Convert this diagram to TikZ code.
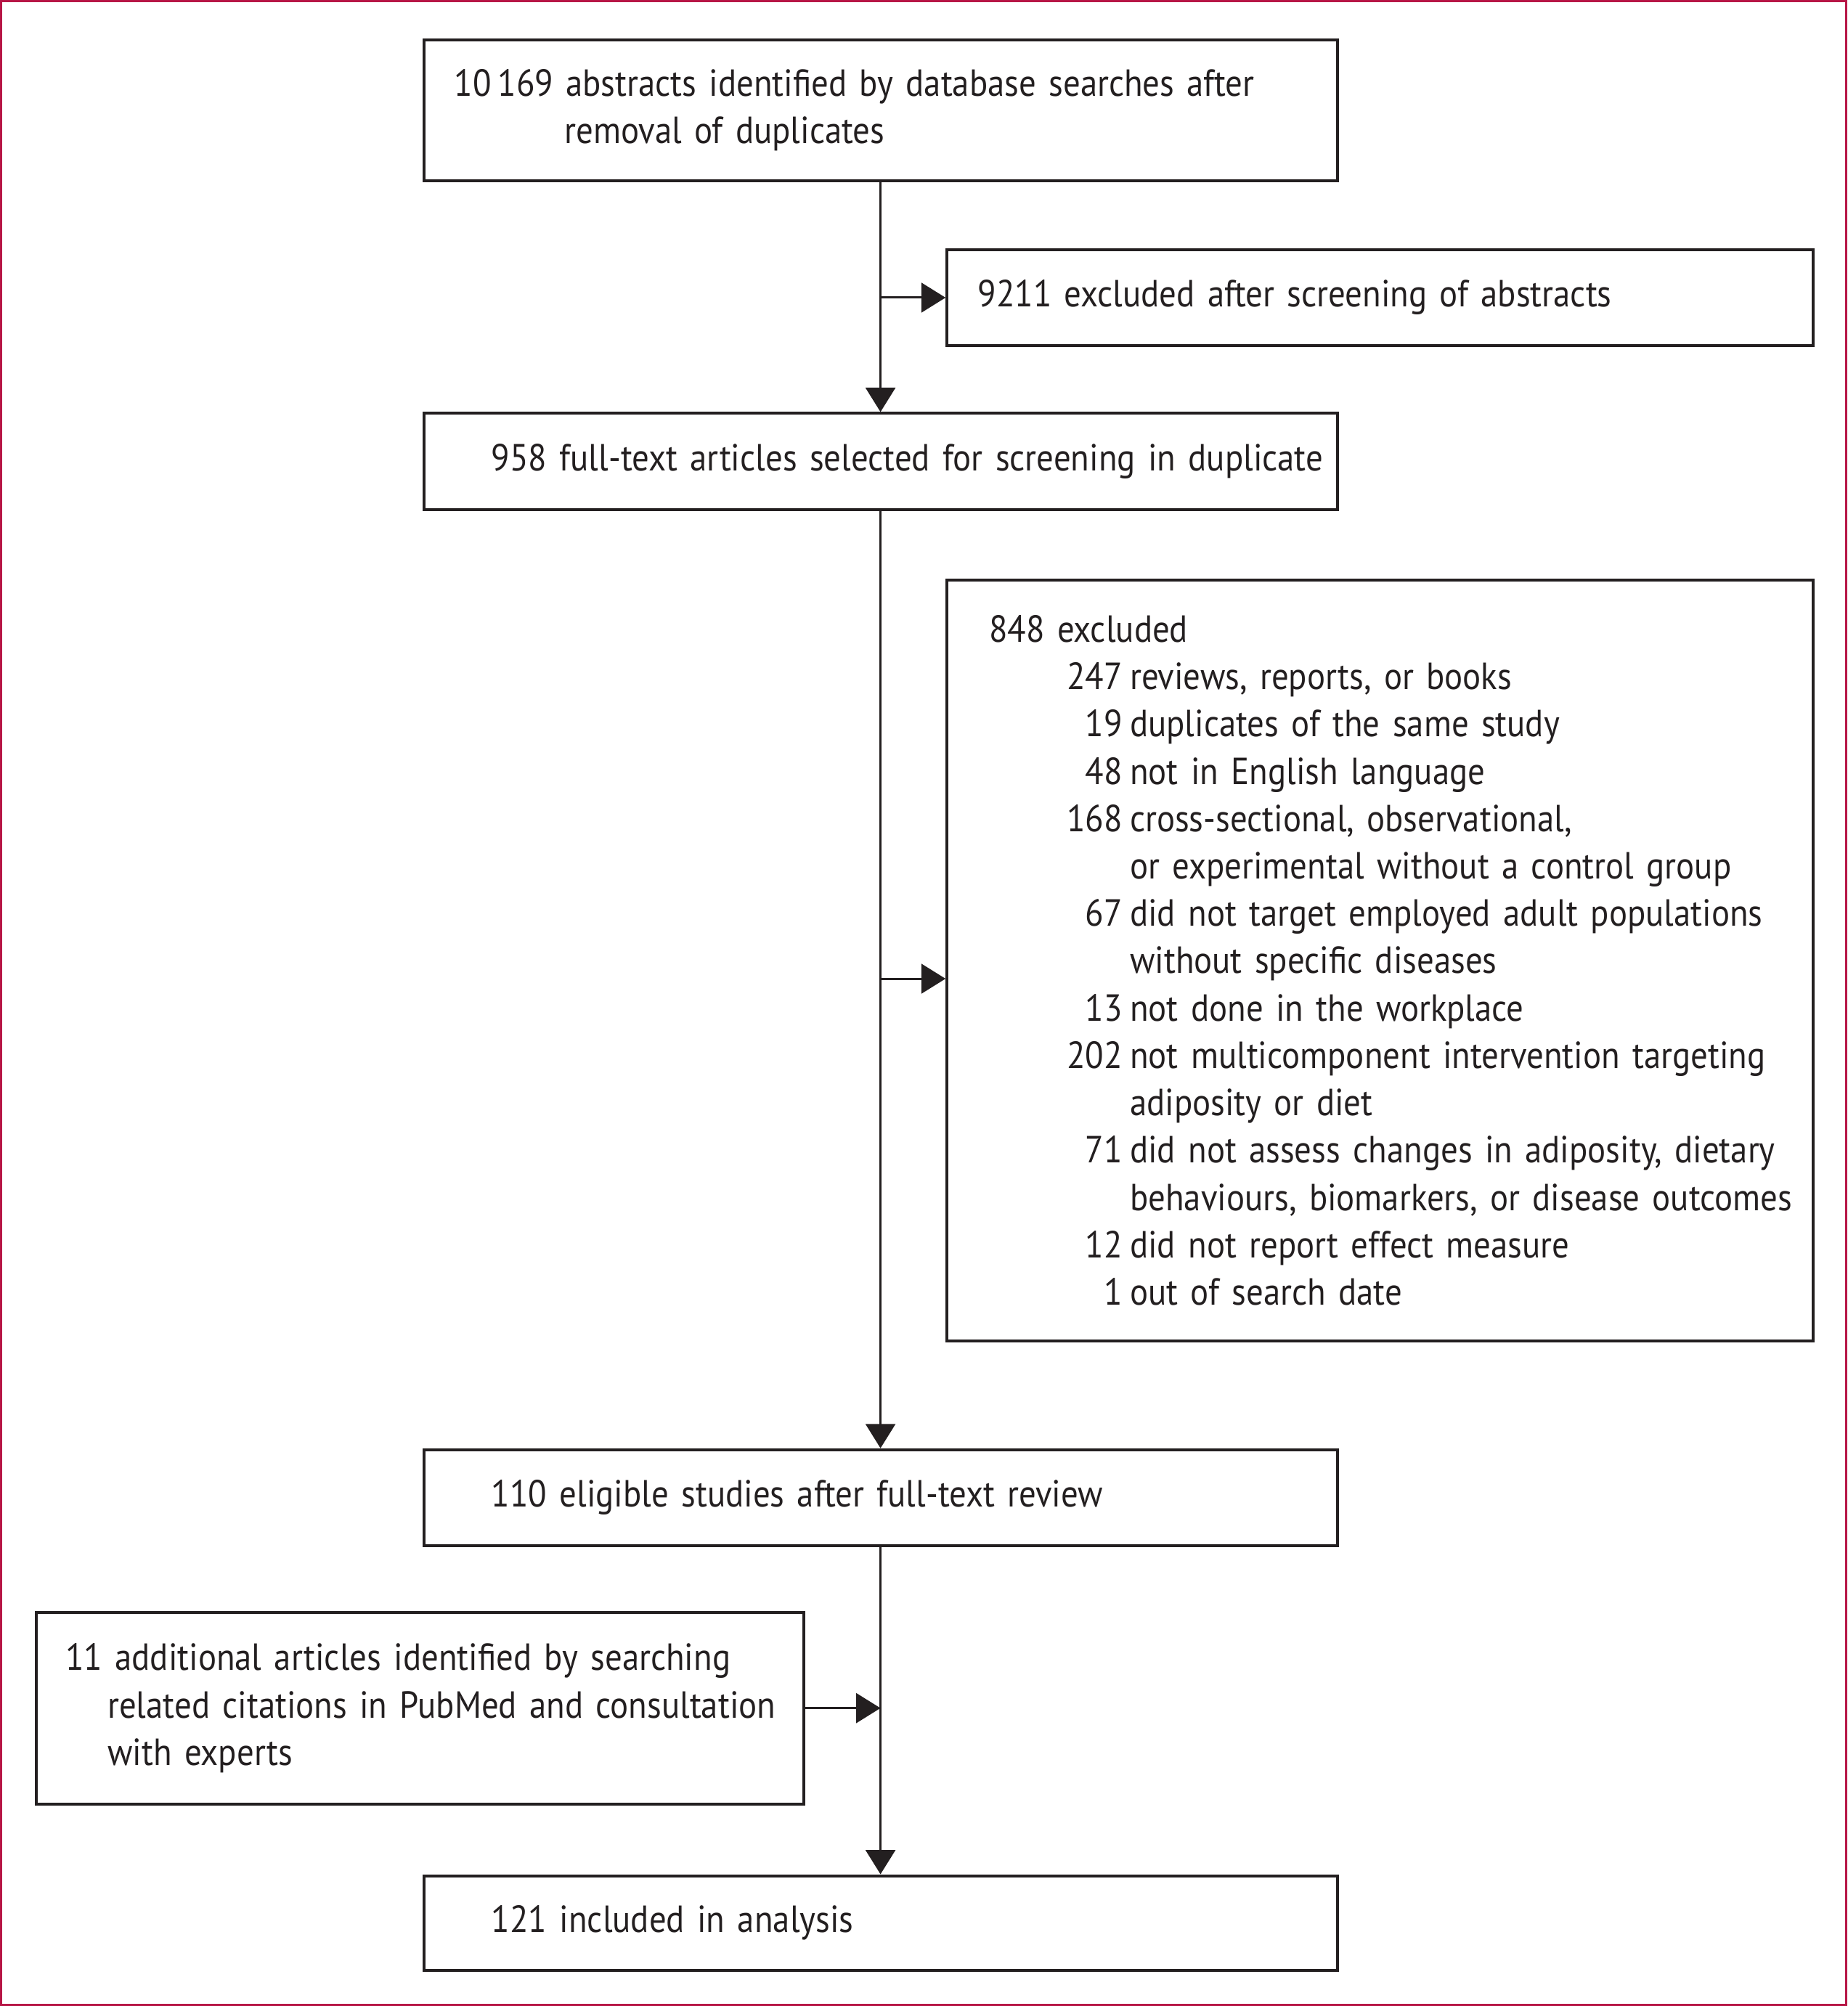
\documentclass[tikz,border=0pt]{standalone}
\usepackage{fontspec}
\setmainfont{PT Sans}[FakeStretch=0.9, WordSpace=0.65]
\usetikzlibrary{arrows.meta,positioning}
\definecolor{framered}{RGB}{183,22,70}
\definecolor{ink}{RGB}{35,31,32}
\newcommand{\boxline}[2]{\mbox{\hspace*{#1}#2}}
\newcommand{\exrow}[2]{\boxline{3.3mm}{\makebox[10.4mm][r]{#1}\hspace{0.6mm}#2}}
\newcommand{\excont}[1]{\boxline{14.3mm}{#1}}

\begin{document}
\begin{tikzpicture}[x = 0.1mm, y = -0.1mm,
  box/.style = {draw = ink, line width = 0.65pt, text = ink, align = left,
    anchor = north west, inner xsep = 0pt, inner ysep = 0pt,
    font = \fontsize{8.4}{10.53}\selectfont},
  flow/.style = {draw = ink, line width = 0.48pt,
    -{Triangle[length = 5.4pt, width = 6.6pt]}}]
%\draw [help lines, step = 100] (0, 0) grid (1444, 1568);
\useasboundingbox (0, 0) rectangle (1444, 1568);
\draw [framered, line width = 0.5pt] (1, 1) rectangle (1443, 1567);
\node [box, text width = 71.4mm, minimum height = 11mm] (abstracts) at (330, 30)
  {\boxline{2.4mm}{10\,169 abstracts identified by database searches after}\\
   \boxline{11mm}{removal of duplicates}};
\node [box, text width = 67.7mm, minimum height = 7.5mm] (screened) at (739, 194)
  {\boxline{2.4mm}{9211 excluded after screening of abstracts}};
\node [box, text width = 71.4mm, minimum height = 7.5mm] (fulltext) at (330, 322)
  {\boxline{5.3mm}{958 full-text articles selected for screening in duplicate}};
\node [box, text width = 67.7mm, minimum height = 59.5mm] (excluded) at (739, 452)
  {\boxline{3.3mm}{848 excluded}\\
   \exrow{247}{reviews, reports, or books}\\
   \exrow{19}{duplicates of the same study}\\
   \exrow{48}{not in English language}\\
   \exrow{168}{cross-sectional, observational,}\\
   \excont{or experimental without a control group}\\
   \exrow{67}{did not target employed adult populations}\\
   \excont{without specific diseases}\\
   \exrow{13}{not done in the workplace}\\
   \exrow{202}{not multicomponent intervention targeting}\\
   \excont{adiposity or diet}\\
   \exrow{71}{did not assess changes in adiposity, dietary}\\
   \excont{behaviours, biomarkers, or disease outcomes}\\
   \exrow{12}{did not report effect measure}\\
   \exrow{1}{out of search date}};
\node [box, text width = 71.4mm, minimum height = 7.5mm] (eligible) at (330, 1132)
  {\boxline{5.3mm}{110 eligible studies after full-text review}};
\node [box, text width = 60mm, minimum height = 15mm] (additional) at (27, 1259)
  {\boxline{2.3mm}{11 additional articles identified by searching}\\
   \boxline{5.6mm}{related citations in PubMed and consultation}\\
   \boxline{5.6mm}{with experts}};
\node [box, text width = 71.4mm, minimum height = 7.4mm] (included) at (330, 1465)
  {\boxline{5.3mm}{121 included in analysis}};
% main line
\coordinate (split) at (abstracts.south |- 0, 765);
\draw [flow] (abstracts) -- (fulltext);
\draw [flow] (abstracts.south |- screened.west) -- (screened.west);
\draw [flow] (fulltext) -- (eligible);
\draw [flow] (split) -- (split -| excluded.west);
\draw [flow] (eligible) -- (included);
\draw [flow] (additional.east) -- (additional.east -| eligible.south);
\end{tikzpicture}
\end{document}
